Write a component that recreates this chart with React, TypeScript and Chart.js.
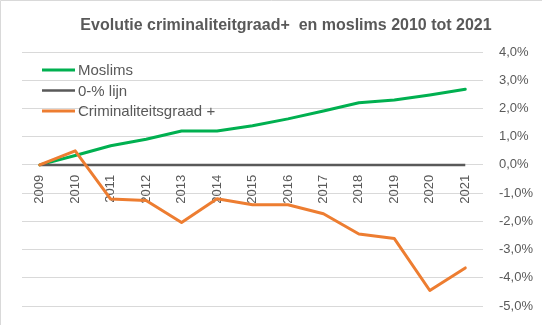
import React, { useEffect, useRef } from 'react';
import { Chart, registerables } from 'chart.js';

Chart.register(...registerables);

const TITLE = 'Evolutie criminaliteitgraad+  en moslims 2010 tot 2021';

const years = ['2009', '2010', '2011', '2012', '2013', '2014', '2015', '2016', '2017', '2018', '2019', '2020', '2021'];
const moslims = [0, 0.33, 0.68, 0.91, 1.2, 1.2, 1.39, 1.63, 1.91, 2.2, 2.3, 2.48, 2.68];
const nulLijn = [0, 0, 0, 0, 0, 0, 0, 0, 0, 0, 0, 0, 0];
const criminaliteit = [0, 0.5, -1.21, -1.26, -2.04, -1.2, -1.41, -1.41, -1.73, -2.45, -2.61, -4.45, -3.65];

const Y_MIN = -5;
const Y_MAX = 4;
const Y_STEP = 1;

const FONT = '"Liberation Sans", Arial, sans-serif';
const TEXT = '#595959';

const decorPlugin = {
  id: 'decor',
  beforeDraw(chart: any) {
    const ctx = chart.ctx;
    ctx.save();
    ctx.fillStyle = '#ffffff';
    ctx.fillRect(0, 0, chart.width, chart.height);
    ctx.strokeStyle = '#d9d9d9';
    ctx.lineWidth = 1;
    ctx.beginPath();
    ctx.moveTo(0.5, chart.height);
    ctx.lineTo(0.5, 0.5);
    ctx.lineTo(chart.width, 0.5);
    ctx.stroke();
    ctx.restore();
  },
  afterDraw(chart: any) {
    const { ctx, chartArea } = chart;
    ctx.save();
    ctx.font = `bold 16px ${FONT}`;
    ctx.fillStyle = TEXT;
    ctx.textAlign = 'center';
    ctx.textBaseline = 'alphabetic';
    ctx.fillText(TITLE, chart.width / 2 + 15, 30);

    ctx.font = `15px ${FONT}`;
    ctx.textAlign = 'left';
    ctx.textBaseline = 'middle';
    chart.data.datasets.forEach((ds: any, i: number) => {
      const y = chartArea.top + 18 + i * 20.5;
      const x0 = chartArea.left + 20;
      ctx.strokeStyle = ds.borderColor;
      ctx.lineWidth = ds.borderWidth;
      ctx.lineCap = 'butt';
      ctx.beginPath();
      ctx.moveTo(x0, y);
      ctx.lineTo(x0 + 33, y);
      ctx.stroke();
      ctx.fillStyle = TEXT;
      ctx.fillText(ds.label, x0 + 36, y + 1);
    });
    ctx.restore();
  },
};

export default function App() {
  const canvasRef = useRef<HTMLCanvasElement | null>(null);

  useEffect(() => {
    if (!canvasRef.current) return;
    const chart = new Chart(canvasRef.current, {
      type: 'line',
      data: {
        labels: years,
        datasets: [
          {
            label: 'Moslims',
            data: moslims,
            borderColor: '#00b050',
            backgroundColor: '#00b050',
            borderWidth: 3,
            pointRadius: 0,
            tension: 0,
            borderJoinStyle: 'round',
            borderCapStyle: 'round',
            order: 2,
          },
          {
            label: '0-% lijn',
            data: nulLijn,
            borderColor: '#595959',
            backgroundColor: '#595959',
            borderWidth: 2.5,
            pointRadius: 0,
            tension: 0,
            order: 1,
          },
          {
            label: 'Criminaliteitsgraad +',
            data: criminaliteit,
            borderColor: '#ed7d31',
            backgroundColor: '#ed7d31',
            borderWidth: 3,
            pointRadius: 0,
            tension: 0,
            borderJoinStyle: 'round',
            borderCapStyle: 'round',
            order: 0,
          },
        ],
      },
      options: {
        responsive: false,
        animation: false,
        devicePixelRatio: 1,
        layout: { padding: { top: 52, bottom: 19, left: 22, right: 0 } },
        plugins: {
          legend: { display: false },
          title: { display: false },
          tooltip: { enabled: false },
        },
        scales: {
          x: {
            type: 'category',
            position: { y: 0 } as any,
            offset: true,
            grid: { display: false, drawTicks: false },
            border: { display: false },
            ticks: {
              minRotation: 90,
              maxRotation: 90,
              padding: 10,
              color: TEXT,
              font: { family: FONT, size: 13 },
            },
          },
          y: {
            position: 'right',
            min: Y_MIN,
            max: Y_MAX,
            grid: {
              color: '#d9d9d9',
              lineWidth: 1,
              drawTicks: true,
              tickLength: 16,
              tickColor: 'rgba(0,0,0,0)',
            },
            border: { display: false },
            ticks: {
              stepSize: Y_STEP,
              padding: 0,
              color: TEXT,
              font: { family: FONT, size: 13 },
              callback: (v: any) => Number(v).toFixed(1).replace('.', ',') + '%',
            },
            afterFit: (scale: any) => {
              scale.width = 59;
            },
          },
        },
      },
      plugins: [decorPlugin],
    });
    return () => chart.destroy();
  }, []);

  return (
    <div style={{ position: 'absolute', left: 0, top: 0, width: 542, height: 325 }}>
      <canvas ref={canvasRef} width={542} height={325} style={{ display: 'block', width: 542, height: 325 }} />
    </div>
  );
}
